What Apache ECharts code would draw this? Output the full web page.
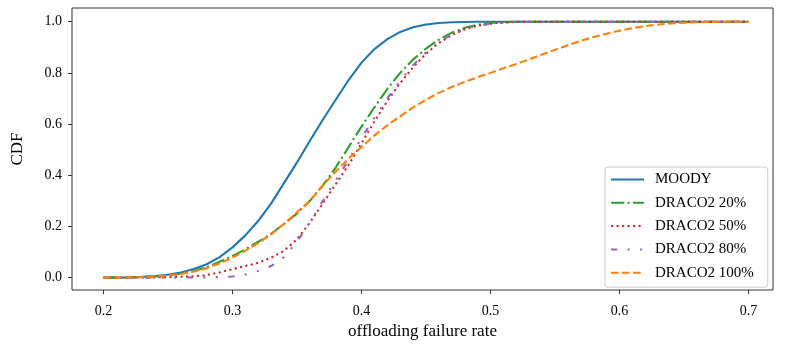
<!DOCTYPE html>
<html>
<head>
<meta charset="utf-8">
<script src="https://cdn.jsdelivr.net/npm/echarts@6/dist/echarts.min.js"></script>
<style>html,body{margin:0;padding:0;background:#fff}#c{width:789px;height:351px}</style>
</head>
<body>
<div id="c"></div>
<script>
const xs = [0.20,0.21,0.22,0.23,0.24,0.25,0.26,0.27,0.28,0.29,0.30,0.31,0.32,0.33,0.34,0.35,0.36,0.37,0.38,0.39,0.40,0.41,0.42,0.43,0.44,0.45,0.46,0.47,0.48,0.49,0.50,0.51,0.52,0.53,0.54,0.55,0.56,0.57,0.58,0.59,0.60,0.61,0.62,0.63,0.64,0.65,0.66,0.67,0.68,0.69,0.70];

const moody = [0,0,0.001,0.003,0.006,0.011,0.02,0.034,0.052,0.08,0.118,0.165,0.222,0.29,0.37,0.45,0.535,0.617,0.695,0.772,0.84,0.893,0.932,0.96,0.978,0.989,0.995,0.998,0.999,1,1,1,1,1,1,1,1,1,1,1,1,1,1,1,1,1,1,1,1,1,1];

const draco20 = [0,0,0.001,0.002,0.004,0.008,0.016,0.026,0.04,0.062,0.085,0.11,0.14,0.172,0.21,0.25,0.30,0.36,0.43,0.51,0.59,0.665,0.737,0.8,0.852,0.895,0.93,0.957,0.976,0.988,0.995,0.998,1,1,1,1,1,1,1,1,1,1,1,1,1,1,1,1,1,1,1];

const draco50 = [0,0,0,0.001,0.001,0.002,0.003,0.005,0.01,0.02,0.033,0.045,0.058,0.078,0.105,0.15,0.215,0.29,0.365,0.44,0.525,0.61,0.69,0.76,0.822,0.875,0.917,0.948,0.97,0.984,0.992,0.997,0.999,1,1,1,1,1,1,1,1,1,1,1,1,1,1,1,1,1,1];

const draco80 = [0,0,0,0,0,0,0,0.001,0.001,0.002,0.004,0.012,0.026,0.045,0.08,0.14,0.215,0.30,0.38,0.46,0.545,0.625,0.70,0.77,0.83,0.88,0.92,0.95,0.972,0.985,0.992,0.996,0.999,1,1,1,1,1,1,1,1,1,1,1,1,1,1,1,1,1,1];

const draco100 = [0,0,0.001,0.002,0.004,0.008,0.014,0.024,0.037,0.055,0.078,0.105,0.135,0.17,0.21,0.255,0.30,0.36,0.415,0.465,0.51,0.555,0.595,0.63,0.665,0.695,0.722,0.745,0.765,0.783,0.80,0.818,0.835,0.853,0.872,0.89,0.908,0.925,0.94,0.953,0.965,0.975,0.983,0.989,0.993,0.996,0.998,0.999,1,1,1];

const xTicks = [0.2,0.3,0.4,0.5,0.6,0.7];
const yTicks = [0.0,0.2,0.4,0.6,0.8,1.0];
const names = ['MOODY','DRACO2 20%','DRACO2 50%','DRACO2 80%','DRACO2 100%'];

const FONT = '"Liberation Serif", "DejaVu Serif", serif';
const pair = arr => xs.map((x,i)=>[x,arr[i]]);

const seriesDefs = [
  {name:names[0], data:moody,    color:'#1f77b4', type:'solid'},
  {name:names[1], data:draco20,  color:'#2ca02c', type:[13.3,3.3,2.1,3.3]},
  {name:names[2], data:draco50,  color:'#d62728', type:[2.1,3.4]},
  {name:names[3], data:draco80,  color:'#9467bd', type:[6.2,10.4,2.1,10.4,2.1,10.4]},
  {name:names[4], data:draco100, color:'#ff7f0e', type:[7.7,3.3]}
];

const chart = echarts.init(document.getElementById('c'), null, {renderer:'canvas'});
chart.setOption({
  animation:false,
  backgroundColor:'#ffffff',
  grid:{left:72, right:16, top:8, bottom:61, show:true, borderColor:'#333', borderWidth:1, backgroundColor:'transparent'},
  xAxis:{
    type:'value', min:0.17558, max:0.71898,
    name:'offloading failure rate', nameLocation:'middle', nameGap:33,
    nameTextStyle:{fontFamily:FONT, fontSize:17, color:'#000'},
    axisLine:{show:false, onZero:false},
    splitLine:{show:false},
    axisTick:{show:true, length:4, inside:false, customValues:xTicks, lineStyle:{color:'#333', width:1}},
    axisLabel:{customValues:xTicks, margin:14, fontFamily:FONT, fontSize:14, color:'#000', formatter:v=>v.toFixed(1)}
  },
  yAxis:{
    type:'value', min:-0.0485, max:1.0535,
    name:'CDF', nameLocation:'middle', nameGap:46,
    nameTextStyle:{fontFamily:FONT, fontSize:17, color:'#000'},
    axisLine:{show:false, onZero:false},
    splitLine:{show:false},
    axisTick:{show:true, length:4, inside:false, customValues:yTicks, lineStyle:{color:'#333', width:1}},
    axisLabel:{customValues:yTicks, margin:10, fontFamily:FONT, fontSize:14, color:'#000', formatter:v=>v.toFixed(1)}
  },
  legend:{
    orient:'vertical', left:605, top:167,
    data:names,
    itemWidth:33, itemHeight:14, itemGap:8.3,
    padding:[5,14,7,5],
    backgroundColor:'rgba(255,255,255,0.8)',
    borderColor:'#cccccc', borderWidth:1, borderRadius:3,
    itemStyle:{opacity:0},
    textStyle:{fontFamily:FONT, fontSize:15, color:'#000', padding:[0,0,0,6]}
  },
  series: seriesDefs.map(s=>({
    type:'line', name:s.name, data:pair(s.data),
    symbol:'none', smooth:false,
    color:s.color,
    lineStyle:{color:s.color, width:2.1, type:s.type, cap:'butt'},
    itemStyle:{color:s.color}
  }))
});
</script>
</body>
</html>
